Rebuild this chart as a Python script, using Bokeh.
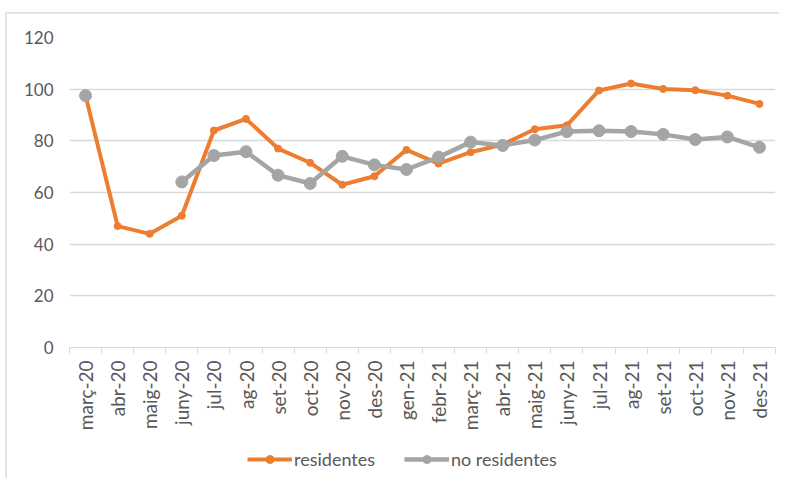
import math
from bokeh.plotting import figure
from bokeh.layouts import column
from bokeh.models import FixedTicker, Legend, Range1d, ColumnDataSource
from bokeh.embed import file_html
from bokeh.resources import INLINE

months = ["març-20", "abr-20", "maig-20", "juny-20", "jul-20", "ag-20", "set-20",
          "oct-20", "nov-20", "des-20", "gen-21", "febr-21", "març-21", "abr-21",
          "maig-21", "juny-21", "jul-21", "ag-21", "set-21", "oct-21", "nov-21", "des-21"]
residentes = [97.5, 47.0, 44.0, 51.0, 84.0, 88.5, 77.0, 71.5, 63.0, 66.3, 76.5,
              71.2, 75.6, 78.6, 84.5, 86.0, 99.5, 102.2, 100.1, 99.6, 97.5, 94.3]
no_residentes = [97.5, None, None, 64.1, 74.3, 75.8, 66.7, 63.5, 74.0, 70.7, 68.9,
                 73.7, 79.5, 78.2, 80.3, 83.6, 83.9, 83.6, 82.5, 80.5, 81.5, 77.5]
y_ticks = [0, 20, 40, 60, 80, 100, 120]
series_names = ["residentes", "no residentes"]

ORANGE = "#ED7D31"
GREY = "#A5A5A5"
TXT = "#595959"
GRID = "#D9D9D9"
FONT = "Lato"

n = len(months)
xc = [i + 0.5 for i in range(n)]
src = ColumnDataSource(dict(
    x=xc,
    res=residentes,
    nores=[float("nan") if v is None else v for v in no_residentes],
))

p = figure(frame_width=706, frame_height=310, output_backend="svg", toolbar_location=None,
           x_range=Range1d(0, n), y_range=Range1d(0, 120),
           min_border_left=62, min_border_right=4, min_border_top=23, min_border_bottom=0)
p.outline_line_color = None
p.background_fill_color = "white"
p.border_fill_color = "white"

p.line("x", "res", source=src, line_color=ORANGE, line_width=4)
p.scatter("x", "res", source=src, size=7, fill_color=ORANGE, line_color=ORANGE)
p.line("x", "nores", source=src, line_color=GREY, line_width=4.5)
p.scatter("x", "nores", source=src, size=12, fill_color=GREY, line_color=GREY)

# x axis
xa = p.xaxis[0]
xa.axis_label = None
xa.ticker = FixedTicker(ticks=xc, minor_ticks=list(range(n + 1)))
xa.major_label_overrides = {x: m for x, m in zip(xc, months)}
xa.major_label_orientation = math.pi / 2
xa.major_tick_line_color = None
xa.major_tick_out = 0
xa.major_tick_in = 0
xa.minor_tick_line_color = GRID
xa.minor_tick_out = 6
xa.minor_tick_in = 0
xa.axis_line_color = GRID
xa.major_label_standoff = 7
xa.major_label_text_font = FONT
xa.major_label_text_font_size = "19px"
xa.major_label_text_color = TXT

# y axis
ya = p.yaxis[0]
ya.axis_label = None
ya.ticker = FixedTicker(ticks=y_ticks)
ya.axis_line_color = None
ya.major_tick_line_color = None
ya.minor_tick_line_color = None
ya.major_tick_out = 0
ya.major_label_standoff = 16
ya.major_label_text_font = FONT
ya.major_label_text_font_size = "17px"
ya.major_label_text_color = TXT

p.xgrid.grid_line_color = None
p.ygrid.grid_line_color = GRID
p.ygrid.grid_line_width = 1.5

# legend strip (its renderers lie outside the strip's ranges, so only the legend shows)
p2 = figure(width=772, height=45, output_backend="svg", toolbar_location=None,
            x_axis_type=None, y_axis_type=None, min_border=0,
            x_range=Range1d(-1000, -999), y_range=Range1d(-1000, -999))
p2.outline_line_color = None
p2.grid.visible = False
l1 = p2.line("x", "res", source=src, line_color=ORANGE, line_width=4)
m1 = p2.scatter("x", "res", source=src, size=7, fill_color=ORANGE, line_color=ORANGE)
l2 = p2.line("x", "nores", source=src, line_color=GREY, line_width=4.5)
m2 = p2.scatter("x", "nores", source=src, size=12, fill_color=GREY, line_color=GREY)

legend = Legend(items=[(series_names[0], [l1, m1]), (series_names[1], [l2, m2])],
                orientation="horizontal", location=(178, 8))
legend.glyph_width = 45
legend.glyph_height = 20
legend.label_standoff = 2
legend.spacing = 29
legend.margin = 0
legend.padding = 2
legend.border_line_color = None
legend.background_fill_alpha = 0
legend.label_text_font = FONT
legend.label_text_font_size = "18px"
legend.label_text_color = TXT
p2.add_layout(legend, "center")

layout = column(p, p2, spacing=0)
layout.margin = (12, 0, 0, 5)
layout.styles = {"border-left": "2px solid #E4E4E4", "border-top": "2px solid #E4E4E4"}

open("out.html", "w").write(file_html(layout, INLINE))
